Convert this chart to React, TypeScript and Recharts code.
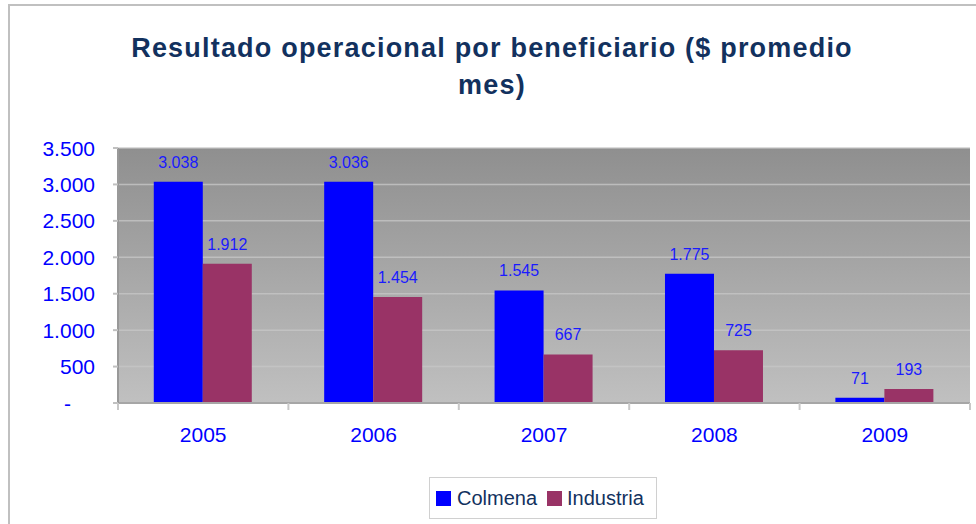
import { BarChart, Bar, XAxis, YAxis, CartesianGrid, Legend, LabelList } from 'recharts';

const years = ['2005', '2006', '2007', '2008', '2009'];
const colmena = [3038, 3036, 1545, 1775, 71];
const industria = [1912, 1454, 667, 725, 193];
const yTicks = [0, 500, 1000, 1500, 2000, 2500, 3000, 3500];

const FONT = '"Liberation Sans", Arial, sans-serif';
const BLUE_TEXT = '#0000ff';
const NAVY = '#12315e';

// separador de miles con punto, cero como guion
const fmt = (v: number) => String(v).replace(/\B(?=(\d{3})+(?!\d))/g, '.');

const data = years.map((year, i) => ({ year, Colmena: colmena[i], Industria: industria[i] }));

const XTick = (props: any) => {
  const { x, y, payload, index } = props;
  const half = payload && payload.offset ? payload.offset : 85;
  return (
    <g>
      <line x1={x - half} x2={x - half} y1={y} y2={y + 7} stroke="#c8c8c8" strokeWidth={2} />
      {index === years.length - 1 && (
        <line x1={x + half} x2={x + half} y1={y} y2={y + 7} stroke="#c8c8c8" strokeWidth={2} />
      )}
      <text x={x} y={y + 31} textAnchor="middle" dominantBaseline="central" fill={BLUE_TEXT} fontSize={21} fontFamily={FONT}>
        {payload.value}
      </text>
    </g>
  );
};

// el cero se muestra como "-" algo corrido a la izquierda (formato contable)
const YTick = (props: any) => {
  const { x, y, payload } = props;
  const isZero = payload.value === 0;
  return (
    <text
      x={isZero ? x - 24 : x}
      y={y}
      textAnchor="end"
      dominantBaseline="central"
      fill={BLUE_TEXT}
      fontSize={21}
      fontFamily={FONT}
    >
      {isZero ? '-' : fmt(payload.value)}
    </text>
  );
};

const LegendBox = () => (
  <div
    style={{
      width: 228,
      height: 42,
      border: '1px solid #d0d0d0',
      display: 'flex',
      alignItems: 'center',
      fontFamily: FONT,
      fontSize: 20,
      color: NAVY,
      boxSizing: 'border-box',
      paddingLeft: 6,
    }}
  >
    <span style={{ width: 15, height: 15, background: '#0000ff', display: 'inline-block', marginRight: 6 }} />
    <span style={{ marginRight: 10 }}>Colmena</span>
    <span style={{ width: 15, height: 15, background: '#993366', display: 'inline-block', marginRight: 5 }} />
    <span>Industria</span>
  </div>
);

export default function App() {
  return (
    <div style={{ position: 'absolute', left: 0, top: 0, width: 976, height: 524, background: '#fff', overflow: 'hidden' }}>
      <div
        style={{
          position: 'absolute',
          left: 8,
          top: 4,
          width: 1000,
          height: 600,
          borderTop: '2px solid #c0c0c0',
          borderLeft: '2px solid #c0c0c0',
        }}
      />
      <div
        style={{
          position: 'absolute',
          left: 0,
          width: 984,
          top: 30,
          textAlign: 'center',
          fontFamily: FONT,
          fontWeight: 'bold',
          fontSize: 27,
          lineHeight: '37px',
          color: NAVY,
          letterSpacing: 1.2,
        }}
      >
        Resultado operacional por beneficiario ($ promedio
        <br />
        mes)
      </div>
      <div style={{ position: 'absolute', left: 0, top: 0 }}>
        <BarChart
          width={976}
          height={524}
          data={data}
          margin={{ top: 148, right: 6, bottom: 29, left: 0 }}
          barCategoryGap="21%"
          barGap={0}
        >
          <defs>
            <linearGradient id="plotBg" x1="0" y1="0" x2="0" y2="1">
              <stop offset="0%" stopColor="#8f8f8f" />
              <stop offset="100%" stopColor="#c0c0c0" />
            </linearGradient>
          </defs>
          <CartesianGrid
            vertical={false}
            fill="url(#plotBg)"
            fillOpacity={1}
            stroke="#c6c6c6"
            strokeOpacity={0.8}
            strokeWidth={1.5}
          />
          <XAxis
            dataKey="year"
            tick={<XTick />}
            tickLine={false}
            tickSize={0}
            tickMargin={0}
            height={50}
            axisLine={{ stroke: '#a6a6a6', strokeWidth: 2 }}
            interval={0}
          />
          <YAxis
            domain={[0, 3500]}
            ticks={yTicks}
            width={118}
            tickSize={5}
            tickMargin={18}
            tick={<YTick />}
            tickLine={{ stroke: '#c0c0c0', strokeWidth: 2 }}
            axisLine={{ stroke: '#999999', strokeWidth: 2 }}
          />
          <YAxis
            yAxisId="right"
            orientation="right"
            width={0}
            tick={false}
            tickLine={false}
            axisLine={{ stroke: '#888888', strokeWidth: 3 }}
          />
          <Legend
            verticalAlign="bottom"
            content={<LegendBox />}
            wrapperStyle={{ position: 'absolute', left: 429, top: 477, width: 230, bottom: 'auto' }}
          />
          <Bar dataKey="Colmena" fill="#0000ff" isAnimationActive={false}>
            <LabelList dataKey="Colmena" position="top" offset={14} formatter={(v: any) => fmt(Number(v))} fill="#1a1aff" fontSize={16} fontFamily={FONT} />
          </Bar>
          <Bar dataKey="Industria" fill="#993366" isAnimationActive={false}>
            <LabelList dataKey="Industria" position="top" offset={14} formatter={(v: any) => fmt(Number(v))} fill="#1a1aff" fontSize={16} fontFamily={FONT} />
          </Bar>
        </BarChart>
      </div>
    </div>
  );
}
